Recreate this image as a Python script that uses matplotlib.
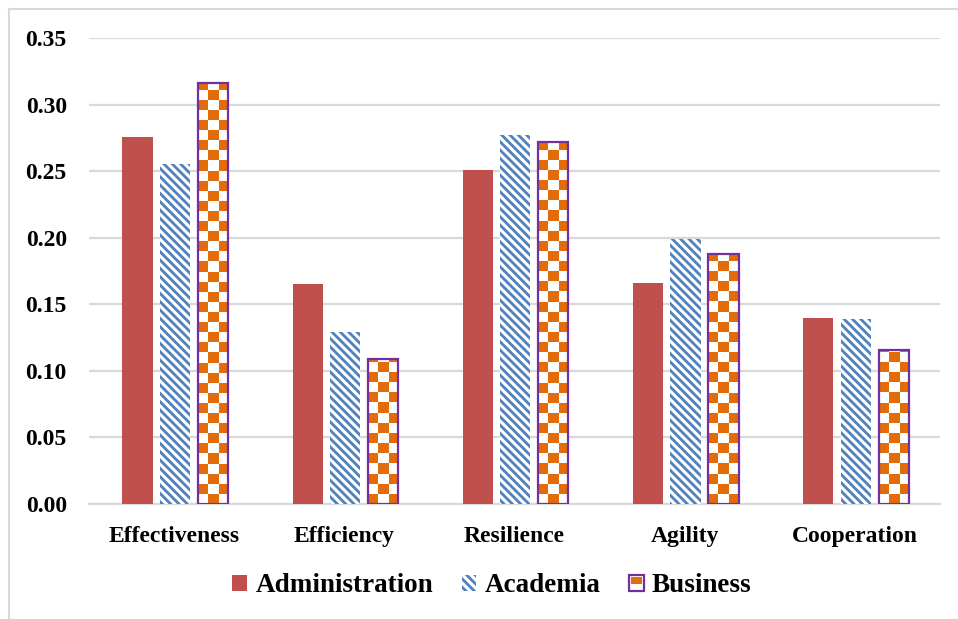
import matplotlib.pyplot as plt
import matplotlib.patches as mpatches
from matplotlib.legend_handler import HandlerPatch
import numpy as np

categories = ['Effectiveness', 'Efficiency', 'Resilience', 'Agility', 'Cooperation']
administration = [0.276, 0.165, 0.251, 0.166, 0.140]
academia = [0.255, 0.129, 0.277, 0.199, 0.139]
business = [0.316, 0.109, 0.272, 0.188, 0.116]
yticks = [0.00, 0.05, 0.10, 0.15, 0.20, 0.25, 0.30, 0.35]

red = '#C0504D'
blue = '#4F81BD'
orange = '#E36C09'
purple = '#7030A0'

plt.rcParams['font.family'] = ['Liberation Serif', 'DejaVu Serif']
plt.rcParams['font.weight'] = 'bold'
plt.rcParams['hatch.linewidth'] = 2.0

fig = plt.figure(figsize=(9.58, 6.19), dpi=100)
ax = fig.add_axes([89 / 958, 1 - 504 / 619, 851 / 958, 466 / 619])

# outer frame (left and top edges only)
fig.add_artist(plt.Line2D([8.5 / 958, 8.5 / 958], [0, 1 - 8.5 / 619], transform=fig.transFigure,
                          color='#D9D9D9', lw=1.5))
fig.add_artist(plt.Line2D([8.5 / 958, 1], [1 - 8.5 / 619, 1 - 8.5 / 619], transform=fig.transFigure,
                          color='#D9D9D9', lw=1.5))

x = np.arange(len(categories))
w = 0.178
ax.bar(x - 0.215, administration, w, color=red, zorder=3)
ax.bar(x + 0.005, academia, w, color='white', edgecolor=blue, hatch='\\\\\\\\', linewidth=0, zorder=3)
bbars = ax.bar(x + 0.228, business, w, color='white', edgecolor=purple, linewidth=0, zorder=3)

ax.set_xlim(-0.5, len(categories) - 0.5)
ax.set_ylim(0, 0.35)
ax.set_yticks(yticks)
ax.set_yticklabels(['%.2f' % t for t in yticks])
ax.set_xticks(x)
ax.set_xticklabels(categories)
ax.tick_params(axis='both', length=0, labelsize=17)
ax.tick_params(axis='y', pad=16)
ax.tick_params(axis='x', pad=16)
ax.grid(axis='y', color='#D9D9D9', lw=1.6, zorder=0)
for s in ['top', 'right', 'left']:
    ax.spines[s].set_visible(False)
ax.spines['bottom'].set_color('#D9D9D9')
ax.spines['bottom'].set_linewidth(1.6)

# checkerboard fill for business bars
fig.canvas.draw()
oc = np.array([0xE3, 0x6C, 0x09]) / 255
for b in bbars:
    x0, y0 = b.get_x(), b.get_y()
    x1, y1 = x0 + b.get_width(), y0 + b.get_height()
    p0 = ax.transData.transform((x0, y0))
    p1 = ax.transData.transform((x1, y1))
    ncol = 3
    cw = (p1[0] - p0[0]) / ncol
    nrow = int(np.ceil((p1[1] - p0[1]) / cw))
    ytop = ax.transData.inverted().transform((p0[0], p0[1] + nrow * cw))[1]
    checker = (np.add.outer(np.arange(nrow), np.arange(ncol)) % 2)
    rgb = np.ones((nrow, ncol, 3))
    rgb[checker == 0] = oc
    im = ax.imshow(rgb, extent=(x0, x1, y0, ytop), origin='upper', interpolation='nearest',
                   aspect='auto', zorder=3.5)
    im.set_clip_path(b)
    ax.add_patch(mpatches.Rectangle((x0, y0), x1 - x0, y1 - y0, facecolor='none',
                                    edgecolor=purple, lw=1.6, zorder=4))
ax.set_xlim(-0.5, len(categories) - 0.5)
ax.set_ylim(0, 0.35)


class CheckerHandler(HandlerPatch):
    def create_artists(self, legend, orig_handle, xdescent, ydescent, width, height, fontsize, trans):
        r = mpatches.Rectangle((-xdescent, -ydescent), width, height, facecolor='white',
                               edgecolor=purple, lw=1.6, transform=trans)
        o = mpatches.Rectangle((-xdescent + width * 0.12, -ydescent + height * 0.45), width * 0.76,
                               height * 0.43, facecolor=orange, lw=0, transform=trans)
        return [r, o]


h1 = mpatches.Patch(facecolor=red, label='Administration')
h2 = mpatches.Patch(facecolor='white', edgecolor=blue, hatch='\\\\\\\\', lw=0, label='Academia')
h3 = mpatches.Patch(facecolor='white', edgecolor=purple, label='Business')
fig.legend(handles=[h1, h2, h3], loc='center', bbox_to_anchor=(492 / 958, 1 - 586 / 619), ncol=3,
           frameon=False, fontsize=19.5, handlelength=0.55, handleheight=0.55, handletextpad=0.3,
           columnspacing=1.05, handler_map={h3: CheckerHandler()})

fig.savefig('out.png', dpi=100)
